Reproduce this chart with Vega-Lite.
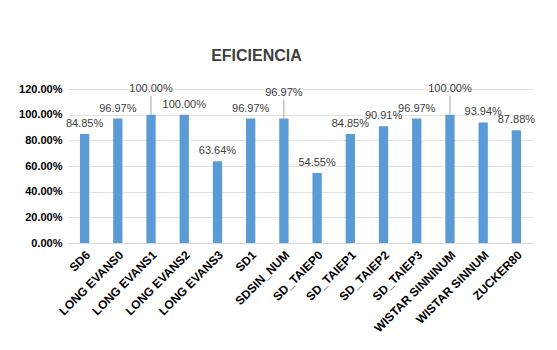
{
  "$schema": "https://vega.github.io/schema/vega-lite/v6.json",
  "width": 465,
  "height": 154,
  "autosize": "none",
  "padding": {"left": 68, "top": 89, "right": 24, "bottom": 107},
  "background": "white",
  "config": {"view": {"stroke": null}, "font": "Liberation Sans"},
  "title": {"text": "EFICIENCIA", "fontSize": 16, "fontWeight": "bold", "color": "#404040", "offset": 19, "dx": -44, "font": "Liberation Sans"},
  "data": {"values": [
    {"cat": "SD6", "v": 0.8485},
    {"cat": "LONG EVANS0", "v": 0.9697},
    {"cat": "LONG EVANS1", "v": 1.0},
    {"cat": "LONG EVANS2", "v": 1.0},
    {"cat": "LONG EVANS3", "v": 0.6364},
    {"cat": "SD1", "v": 0.9697},
    {"cat": "SDSIN_NUM", "v": 0.9697},
    {"cat": "SD_TAIEP0", "v": 0.5455},
    {"cat": "SD_TAIEP1", "v": 0.8485},
    {"cat": "SD_TAIEP2", "v": 0.9091},
    {"cat": "SD_TAIEP3", "v": 0.9697},
    {"cat": "WISTAR SINNINUM", "v": 1.0},
    {"cat": "WISTAR SINNUM", "v": 0.9394},
    {"cat": "ZUCKER80", "v": 0.8788}
  ]},
  "encoding": {
    "x": {"field": "cat", "type": "nominal", "sort": null,
      "scale": {"paddingInner": 0.72, "paddingOuter": 0.36},
      "axis": {"title": null, "labelAngle": -45, "labelFontSize": 12, "labelFontWeight": "bold", "labelColor": "#000000", "ticks": false, "domainColor": "#d9d9d9", "labelPadding": 6, "labelLimit": 200}},
    "y": {"field": "v", "type": "quantitative",
      "scale": {"domain": [0, 1.2]},
      "axis": {"title": null, "format": ".2%", "values": [0, 0.2, 0.4, 0.6, 0.8, 1.0, 1.2], "labelFontSize": 11, "labelFontWeight": "bold", "labelColor": "#000000", "ticks": false, "domain": false, "gridColor": "#e3e3e3", "labelPadding": 6}}
  },
  "layer": [
    {"mark": {"type": "bar", "color": "#5B9BD5"}},
    {"transform": [{"filter": {"not": {"field": "cat", "oneOf": ["LONG EVANS1", "SDSIN_NUM", "WISTAR SINNINUM"]}}}],
     "mark": {"type": "text", "baseline": "bottom", "dy": -5, "fontSize": 11, "color": "#404040"},
     "encoding": {"text": {"field": "v", "type": "quantitative", "format": ".2%"}}},
    {"transform": [{"filter": {"field": "cat", "oneOf": ["LONG EVANS1", "SDSIN_NUM", "WISTAR SINNINUM"]}}],
     "mark": {"type": "text", "baseline": "bottom", "dy": -21, "fontSize": 11, "color": "#404040"},
     "encoding": {"text": {"field": "v", "type": "quantitative", "format": ".2%"}}},
    {"transform": [{"filter": {"field": "cat", "oneOf": ["LONG EVANS1", "SDSIN_NUM", "WISTAR SINNINUM"]}}],
     "mark": {"type": "rule", "color": "#a6a6a6", "strokeWidth": 1, "y2Offset": -19},
     "encoding": {"y2": {"field": "v"}}}
  ]
}
